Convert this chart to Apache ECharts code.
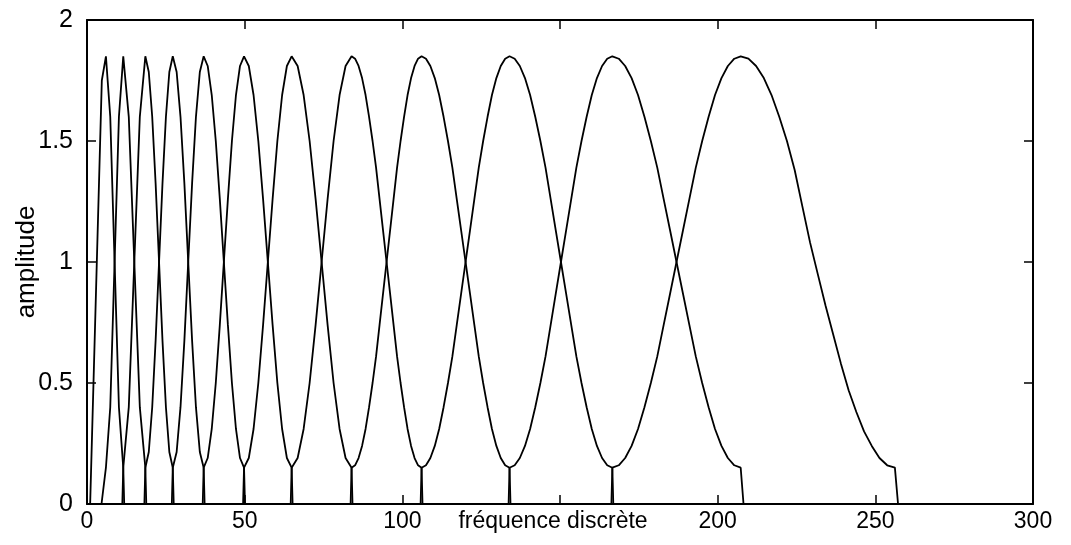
<!DOCTYPE html>
<html>
<head>
<meta charset="utf-8">
<script src="https://cdn.jsdelivr.net/npm/echarts@6/dist/echarts.min.js"></script>
<style>
html,body{margin:0;padding:0;background:#fff;}
#chart{width:1071px;height:545px;}
</style>
</head>
<body>
<div id="chart"></div>
<script>
// Axis tick labels
var xTicks = [0, 50, 100, 150, 200, 250, 300];
var xTickLabels = ['0', '50', '100', '', '200', '250', '300'];
var yTicks = [0, 0.5, 1, 1.5, 2];

// Filter bank responses, [discrete frequency, amplitude]
var filter1 = [[1,0],[4.7,1.75],[6,1.85],[7.375,1.60],[8.75,1.00],[10.125,0.40],[11.5,0.15],[11.8,0]];
var filter2 = [[4.6,0],[6,0.15],[7.375,0.40],[8.75,1.00],[10.125,1.60],[11.5,1.85],[13.25,1.60],[15,1.00],[16.75,0.40],[18.5,0.15],[18.8,0]];
var filter3 = [[11.2,0],[11.5,0.15],[13.25,0.40],[15,1.00],[16.75,1.60],[18.5,1.85],[19.59,1.785],[20.68,1.60],[21.76,1.325],[22.85,1.00],[23.94,0.675],[25.03,0.40],[26.11,0.215],[27.2,0.15],[27.5,0]];
var filter4 = [[18.2,0],[18.5,0.15],[19.59,0.215],[20.68,0.40],[21.76,0.675],[22.85,1.00],[23.94,1.325],[25.03,1.60],[26.11,1.785],[27.2,1.85],[28.43,1.785],[29.65,1.60],[30.88,1.325],[32.1,1.00],[33.33,0.675],[34.55,0.40],[35.78,0.215],[37.0,0.15],[37.3,0]];
var filter5 = [[26.9,0],[27.2,0.15],[28.43,0.215],[29.65,0.40],[30.88,0.675],[32.1,1.00],[33.33,1.325],[34.55,1.60],[35.78,1.785],[37,1.85],[38.28,1.81],[39.56,1.69],[40.84,1.50],[42.12,1.26],[43.4,1.00],[44.68,0.74],[45.96,0.50],[47.24,0.31],[48.52,0.19],[49.8,0.15],[50.1,0]];
var filter6 = [[36.7,0],[37,0.15],[38.28,0.19],[39.56,0.31],[40.84,0.50],[42.12,0.74],[43.4,1.00],[44.68,1.26],[45.96,1.50],[47.24,1.69],[48.52,1.81],[49.8,1.85],[51.31,1.81],[52.82,1.69],[54.33,1.50],[55.84,1.26],[57.35,1.00],[58.86,0.74],[60.37,0.50],[61.88,0.31],[63.39,0.19],[64.9,0.15],[65.2,0]];
var filter7 = [[49.5,0],[49.8,0.15],[51.31,0.19],[52.82,0.31],[54.33,0.50],[55.84,0.74],[57.35,1.00],[58.86,1.26],[60.37,1.50],[61.88,1.69],[63.39,1.81],[64.9,1.85],[66.8,1.81],[68.7,1.69],[70.6,1.50],[72.5,1.26],[74.4,1.00],[76.3,0.74],[78.2,0.50],[80.1,0.31],[82.0,0.19],[83.9,0.15],[84.2,0]];
var filter8 = [[64.6,0],[64.9,0.15],[66.8,0.19],[68.7,0.31],[70.6,0.50],[72.5,0.74],[74.4,1.00],[76.3,1.26],[78.2,1.50],[80.1,1.69],[82.0,1.81],[83.9,1.85],[85.01,1.84],[86.12,1.81],[87.23,1.76],[88.34,1.69],[89.45,1.60],[90.56,1.50],[91.67,1.39],[92.78,1.26],[93.89,1.13],[95.0,1.00],[96.11,0.87],[97.22,0.74],[98.33,0.61],[99.44,0.50],[100.55,0.40],[101.66,0.31],[102.77,0.24],[103.88,0.19],[104.99,0.16],[106.1,0.15],[106.4,0]];
var filter9 = [[83.6,0],[83.9,0.15],[85.01,0.16],[86.12,0.19],[87.23,0.24],[88.34,0.31],[89.45,0.40],[90.56,0.50],[91.67,0.61],[92.78,0.74],[93.89,0.87],[95.0,1.00],[96.11,1.13],[97.22,1.26],[98.33,1.39],[99.44,1.50],[100.55,1.60],[101.66,1.69],[102.77,1.76],[103.88,1.81],[104.99,1.84],[106.1,1.85],[107.5,1.84],[108.89,1.81],[110.29,1.76],[111.68,1.69],[113.08,1.60],[114.47,1.50],[115.87,1.39],[117.26,1.26],[118.66,1.13],[120.05,1.00],[121.45,0.87],[122.84,0.74],[124.24,0.61],[125.63,0.50],[127.03,0.40],[128.42,0.31],[129.82,0.24],[131.21,0.19],[132.61,0.16],[134.0,0.15],[134.3,0]];
var filter10 = [[105.8,0],[106.1,0.15],[107.5,0.16],[108.89,0.19],[110.29,0.24],[111.68,0.31],[113.08,0.40],[114.47,0.50],[115.87,0.61],[117.26,0.74],[118.66,0.87],[120.05,1.00],[121.45,1.13],[122.84,1.26],[124.24,1.39],[125.63,1.50],[127.03,1.60],[128.42,1.69],[129.82,1.76],[131.21,1.81],[132.61,1.84],[134.0,1.85],[135.63,1.84],[137.26,1.81],[138.89,1.76],[140.52,1.69],[142.15,1.60],[143.78,1.50],[145.41,1.39],[147.04,1.26],[148.67,1.13],[150.3,1.00],[151.93,0.87],[153.56,0.74],[155.19,0.61],[156.82,0.50],[158.45,0.40],[160.08,0.31],[161.71,0.24],[163.34,0.19],[164.97,0.16],[166.6,0.15],[166.9,0]];
var filter11 = [[133.7,0],[134,0.15],[135.63,0.16],[137.26,0.19],[138.89,0.24],[140.52,0.31],[142.15,0.40],[143.78,0.50],[145.41,0.61],[147.04,0.74],[148.67,0.87],[150.3,1.00],[151.93,1.13],[153.56,1.26],[155.19,1.39],[156.82,1.50],[158.45,1.60],[160.08,1.69],[161.71,1.76],[163.34,1.81],[164.97,1.84],[166.6,1.85],[168.64,1.84],[170.67,1.81],[172.71,1.76],[174.74,1.69],[176.78,1.60],[178.81,1.50],[180.85,1.39],[182.88,1.26],[184.92,1.13],[186.95,1.00],[188.99,0.87],[191.02,0.74],[193.06,0.61],[195.09,0.50],[197.13,0.40],[199.16,0.31],[201.2,0.24],[203.23,0.19],[205.27,0.16],[207.3,0.15],[208.2,0]];
var filter12 = [[166.3,0],[166.6,0.15],[168.64,0.16],[170.67,0.19],[172.71,0.24],[174.74,0.31],[176.78,0.40],[178.81,0.50],[180.85,0.61],[182.88,0.74],[184.92,0.87],[186.95,1.00],[188.99,1.13],[191.02,1.26],[193.06,1.39],[195.09,1.50],[197.13,1.60],[199.16,1.69],[201.2,1.76],[203.23,1.81],[205.27,1.84],[207.3,1.85],[209.75,1.84],[212.19,1.81],[214.64,1.76],[217.08,1.69],[219.53,1.60],[221.97,1.50],[224.42,1.38],[226.86,1.23],[229.31,1.08],[231.75,0.95],[234.2,0.82],[236.64,0.70],[239.09,0.58],[241.53,0.47],[243.98,0.38],[246.42,0.30],[248.87,0.24],[251.31,0.19],[253.76,0.16],[256.2,0.15],[257.2,0]];

var filters = [filter1, filter2, filter3, filter4, filter5, filter6, filter7, filter8, filter9, filter10, filter11, filter12];

var FONT = "'Liberation Sans', Arial, Helvetica, sans-serif";
var chart = echarts.init(document.getElementById('chart'), null, {renderer: 'canvas'});

function xLabel(v) {
  var i = xTicks.indexOf(v);
  return i >= 0 ? xTickLabels[i] : '';
}

var axisLineStyle = {color: '#000', width: 2};
var tickStyle = {color: '#000', width: 1.5};

var option = {
  animation: false,
  backgroundColor: '#fff',
  grid: {left: 87, right: 38, top: 20, bottom: 41, containLabel: false, outerBoundsMode: 'none'},
  xAxis: [{
    type: 'value', position: 'bottom', min: 0, max: 300, interval: 50,
    axisLine: {show: true, onZero: false, lineStyle: axisLineStyle},
    axisTick: {show: true, inside: true, length: 9, lineStyle: tickStyle},
    splitLine: {show: false},
    axisLabel: {color: '#000', fontFamily: FONT, fontSize: 23, margin: 6, formatter: xLabel},
    name: 'fréquence discrète', nameLocation: 'middle', nameGap: 6, nameMoveOverlap: false,
    nameTextStyle: {color: '#000', fontFamily: FONT, fontSize: 23, verticalAlign: 'top', padding: [0, 14, 0, 0]}
  }, {
    type: 'value', position: 'top', min: 0, max: 300, interval: 50,
    axisLine: {show: true, onZero: false, lineStyle: axisLineStyle},
    axisTick: {show: true, inside: true, length: 9, lineStyle: tickStyle},
    splitLine: {show: false}, axisLabel: {show: false}
  }],
  yAxis: [{
    type: 'value', position: 'left', min: 0, max: 2, interval: 0.5,
    axisLine: {show: true, onZero: false, lineStyle: axisLineStyle},
    axisTick: {show: true, inside: true, length: 9, lineStyle: tickStyle},
    splitLine: {show: false},
    axisLabel: {color: '#000', fontFamily: FONT, fontSize: 25, margin: 14},
    name: 'amplitude', nameLocation: 'middle', nameGap: 47, nameRotate: 90, nameMoveOverlap: false,
    nameTextStyle: {color: '#000', fontFamily: FONT, fontSize: 26}
  }, {
    type: 'value', position: 'right', min: 0, max: 2, interval: 0.5,
    axisLine: {show: true, onZero: false, lineStyle: axisLineStyle},
    axisTick: {show: true, inside: true, length: 9, lineStyle: tickStyle},
    splitLine: {show: false}, axisLabel: {show: false}
  }],
  series: filters.map(function (f, i) {
    return {
      type: 'line', name: 'filtre ' + (i + 1), data: f,
      xAxisIndex: 0, yAxisIndex: 0,
      showSymbol: false, symbol: 'none', smooth: false,
      lineStyle: {color: '#000', width: 1.8},
      silent: true
    };
  })
};
chart.setOption(option);
</script>
</body>
</html>
